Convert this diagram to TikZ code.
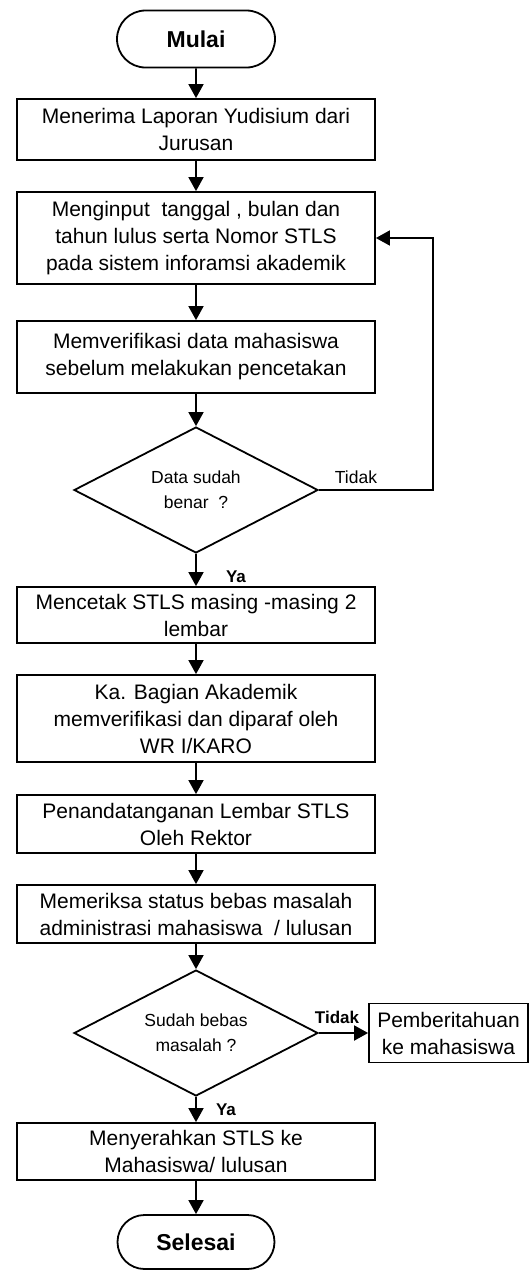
\documentclass[tikz,border=0pt]{standalone}
\usepackage{fontspec}
\setmainfont{Liberation Sans}
\usetikzlibrary{arrows.meta,shapes.geometric,shapes.misc}

\tikzset{
  proc/.style={draw, line width=1.8pt, minimum width=358pt, inner sep=0pt,
    align=center, font=\fontsize{21}{27}\selectfont},
  term/.style={draw, rounded rectangle, line width=1.8pt, minimum width=158pt,
    minimum height=57pt, inner sep=0pt, font=\fontsize{23}{28}\selectfont\bfseries},
  decide/.style={draw, diamond, aspect=2, line width=1.8pt, minimum width=244pt,
    minimum height=126pt, inner sep=0pt, align=center, font=\fontsize{17.5}{25}\selectfont},
  flow/.style={-{Triangle[length=14pt,width=15pt]}, line width=1.8pt},
  lbl/.style={inner sep=0pt, font=\fontsize{17.5}{20}\selectfont},
  lblbold/.style={inner sep=0pt, font=\fontsize{17}{20}\selectfont\bfseries}
}

\begin{document}
\begin{tikzpicture}[x=1pt,y=-1pt]
\useasboundingbox (0,0) rectangle (530,1270);

% main column
\node[term] (mulai) at (196,39) {Mulai};
\node[proc, minimum height=61pt] (b1) at (196,129.5) {Menerima Laporan Yudisium dari\\Jurusan};
\node[proc, minimum height=92pt] (b2) at (196,238) {Menginput\ \ tanggal , bulan dan\\tahun lulus serta Nomor STLS\\pada sistem inforamsi akademik};
\node[proc, minimum height=72pt] (b3) at (196,357) {Memverifikasi data mahasiswa\\sebelum melakukan pencetakan};
\node[decide] (d1) at (196,490) {Data sudah\\benar\ \ ?};
\node[proc, minimum height=56pt] (b4) at (196,615) {Mencetak STLS masing -masing 2\\lembar};
\node[proc, minimum height=87pt] (b5) at (196,718.5) {Ka. Bagian Akademik\\memverifikasi dan diparaf oleh\\WR I/KARO};
\node[proc, minimum height=58pt] (b6) at (196,824) {Penandatanganan Lembar STLS\\Oleh Rektor};
\node[proc, minimum height=58pt] (b7) at (196,914) {Memeriksa status bebas masalah\\administrasi mahasiswa\ \ / lulusan};
\node[decide] (d2) at (196,1033) {Sudah bebas\\masalah ?};
\node[proc, minimum height=57pt] (b8) at (196,1151.5) {Menyerahkan STLS ke\\Mahasiswa/ lulusan};
\node[term, minimum height=54pt, minimum width=157pt] (selesai) at (196,1242) {Selesai};

% side box
\node[proc, minimum width=159pt, minimum height=59pt] (info) at (448.5,1033) {Pemberitahuan\\ke mahasiswa};

% labels
\node[lbl] (no1) at (356,477) {Tidak};
\node[lblbold] (yes1) at (236,577) {Ya};
\node[lblbold] (no2) at (337,1017) {Tidak};
\node[lblbold] (yes2) at (226,1110) {Ya};

\coordinate (loop) at (433,490);

\draw[flow] (mulai) -- (b1);
\draw[flow] (b1) -- (b2);
\draw[flow] (b2) -- (b3);
\draw[flow] (b3) -- (d1);
\draw[flow] (d1.east) -- (loop) |- (b2.east);
\draw[flow] (d1) -- (b4);
\draw[flow] (b4) -- (b5);
\draw[flow] (b5) -- (b6);
\draw[flow] (b6) -- (b7);
\draw[flow] (b7) -- (d2);
\draw[flow] (d2.east) -- (info);
\draw[flow] (d2) -- (b8);
\draw[flow] (b8) -- (selesai);

\end{tikzpicture}
\end{document}
